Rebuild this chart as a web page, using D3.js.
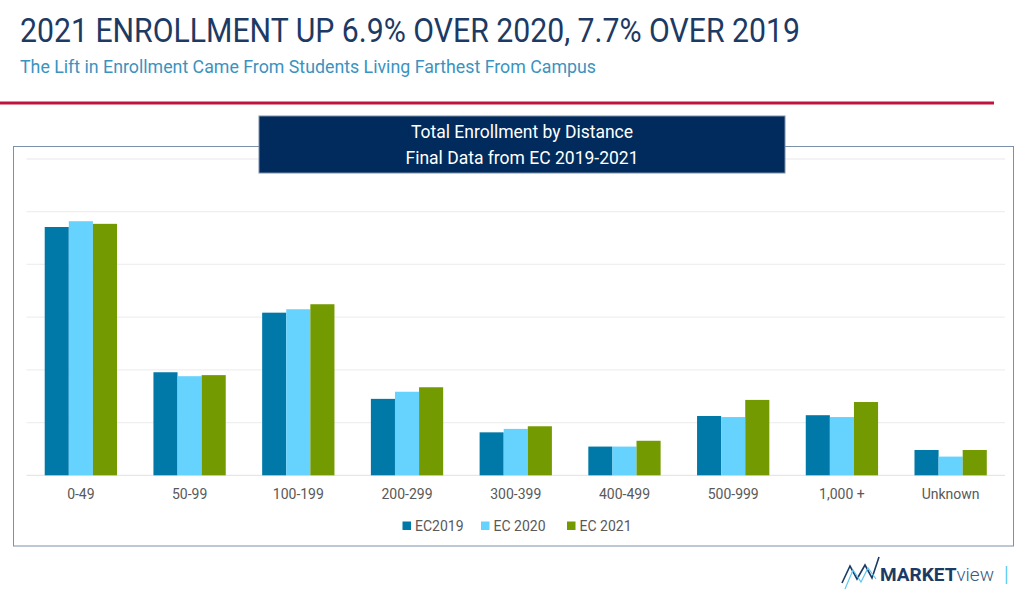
<!DOCTYPE html>
<html>
<head>
<meta charset="utf-8">
<script src="https://cdn.jsdelivr.net/npm/d3@7"></script>
<style>
  body { margin: 0; background: #fff; }
  svg { display: block; font-family: Roboto, 'Noto Sans', sans-serif; }
</style>
</head>
<body>
<div id="chart"></div>
<script>
// Data (units: one gridline step = 1000)
const categories = ['0-49', '50-99', '100-199', '200-299', '300-399', '400-499', '500-999', '1,000 +', 'Unknown'];
const seriesNames = ['EC2019', 'EC 2020', 'EC 2021'];
const ec2019 = [4710, 1955, 3085, 1450, 815, 545, 1125, 1140, 480];
const ec2020 = [4820, 1880, 3150, 1585, 880, 545, 1105, 1105, 355];
const ec2021 = [4770, 1900, 3245, 1670, 930, 655, 1430, 1390, 480];
const yTicks = [0, 1000, 2000, 3000, 4000, 5000, 6000];
const colors = ['#0079a9', '#66d3fe', '#739a00'];

const width = 1024;
const height = 591;

const svg = d3
  .select('#chart')
  .append('svg')
  .attr('width', width)
  .attr('height', height);

// Header
svg
  .append('text')
  .attr('x', 20)
  .attr('y', 42)
  .attr('textLength', 780)
  .attr('lengthAdjust', 'spacingAndGlyphs')
  .attr('fill', '#1c3a63')
  .style('font-size', '34px')
  .text('2021 ENROLLMENT UP 6.9% OVER 2020, 7.7% OVER 2019');

svg
  .append('text')
  .attr('x', 20)
  .attr('y', 73)
  .attr('textLength', 576)
  .attr('lengthAdjust', 'spacingAndGlyphs')
  .attr('fill', '#3a93bf')
  .style('font-size', '19px')
  .text('The Lift in Enrollment Came From Students Living Farthest From Campus');

svg
  .append('rect')
  .attr('x', 0)
  .attr('y', 101.5)
  .attr('width', 994)
  .attr('height', 3)
  .attr('fill', '#c0143c');

// Chart frame
svg
  .append('rect')
  .attr('x', 13.5)
  .attr('y', 146.5)
  .attr('width', 1000)
  .attr('height', 399.5)
  .attr('fill', 'none')
  .attr('stroke', '#7d90aa')
  .attr('stroke-width', 1);

// Scales
const x = d3
  .scaleBand()
  .domain(categories)
  .range([26.5, 1005])
  .paddingInner(0.335)
  .paddingOuter(0.1675);

const xInner = d3
  .scaleBand()
  .domain(seriesNames)
  .range([0, x.bandwidth()]);

const y = d3.scaleLinear().domain([0, 6000]).range([475.3, 159]);

// Gridlines
svg
  .append('g')
  .selectAll('line')
  .data(yTicks)
  .enter()
  .append('line')
  .attr('x1', 26.5)
  .attr('x2', 1005)
  .attr('y1', (d) => y(d))
  .attr('y2', (d) => y(d))
  .attr('stroke', (d) => (d === 0 ? '#e6e6e6' : '#efefef'))
  .attr('stroke-width', 1.3);

// Bars
const rows = categories.map((c, i) => ({
  cat: c,
  vals: [ec2019[i], ec2020[i], ec2021[i]],
}));

const groups = svg
  .append('g')
  .selectAll('g')
  .data(rows)
  .enter()
  .append('g')
  .attr('transform', (d) => `translate(${x(d.cat)},0)`);

groups
  .selectAll('rect')
  .data((d) => d.vals.map((v, j) => ({ name: seriesNames[j], value: v, j })))
  .enter()
  .append('rect')
  .attr('x', (d) => xInner(d.name))
  .attr('y', (d) => y(d.value))
  .attr('width', xInner.bandwidth())
  .attr('height', (d) => y(0) - y(d.value))
  .attr('fill', (d) => colors[d.j]);

// Category axis
const xAxis = svg
  .append('g')
  .attr('transform', `translate(0,${y(0)})`)
  .call(d3.axisBottom(x).tickSize(0).tickPadding(14));

xAxis.select('.domain').remove();
xAxis
  .selectAll('text')
  .attr('fill', '#595959')
  .style('font-size', '14px')
  .style('font-family', 'Roboto, sans-serif');

// Legend
const legendX = [402.5, 481, 567];
const legend = svg
  .append('g')
  .selectAll('g')
  .data(seriesNames)
  .enter()
  .append('g')
  .attr('transform', (d, i) => `translate(${legendX[i]},0)`);

legend
  .append('rect')
  .attr('x', 0)
  .attr('y', 521.5)
  .attr('width', 8.5)
  .attr('height', 8.5)
  .attr('fill', (d, i) => colors[i]);

legend
  .append('text')
  .attr('x', 12.5)
  .attr('y', 531)
  .attr('fill', '#595959')
  .style('font-size', '14px')
  .text((d) => d);

// Chart title box
svg
  .append('rect')
  .attr('x', 259)
  .attr('y', 116)
  .attr('width', 526)
  .attr('height', 57)
  .attr('fill', '#002b5c')
  .attr('stroke', '#7d90aa')
  .attr('stroke-width', 1);

svg
  .append('text')
  .attr('x', 522)
  .attr('y', 138)
  .attr('text-anchor', 'middle')
  .attr('fill', '#fff')
  .style('font-size', '17.5px')
  .text('Total Enrollment by Distance');

svg
  .append('text')
  .attr('x', 522)
  .attr('y', 164)
  .attr('text-anchor', 'middle')
  .attr('fill', '#fff')
  .style('font-size', '17.5px')
  .text('Final Data from EC 2019-2021');

// Logo
const logo = svg.append('g');
logo
  .append('polyline')
  .attr('points', '842,583 850,566 857,579 865,565 872,578 879,557')
  .attr('fill', 'none')
  .attr('stroke', '#1c3a63')
  .attr('stroke-width', 1.6);
logo
  .append('polyline')
  .attr('points', '845,589 853,570 861,582 868,568 876,579')
  .attr('fill', 'none')
  .attr('stroke', '#5ec8f2')
  .attr('stroke-width', 1.2);
const logoText = logo
  .append('text')
  .attr('x', 880)
  .attr('y', 581)
  .style('font-size', '19px');
logoText
  .append('tspan')
  .attr('fill', '#1c3a63')
  .style('font-weight', 'bold')
  .text('MARKET');
logoText
  .append('tspan')
  .attr('fill', '#3d5a80')
  .style('font-weight', '300')
  .text('view');
logo
  .append('line')
  .attr('x1', 1006.5)
  .attr('x2', 1006.5)
  .attr('y1', 566)
  .attr('y2', 584)
  .attr('stroke', '#66cdf2')
  .attr('stroke-width', 1.5);
</script>
</body>
</html>
